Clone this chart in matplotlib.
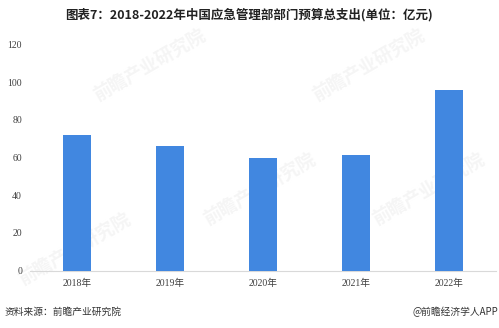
import matplotlib.pyplot as plt
import numpy as np

#%% data
years = ['2018年', '2019年', '2020年', '2021年', '2022年']
spend = [72.0, 66.3, 59.6, 61.5, 95.7]   # 亿元
yticks = [0, 20, 40, 60, 80, 100, 120]

title = '图表7：2018-2022年中国应急管理部部门预算总支出(单位：亿元)'
source = '资料来源：前瞻产业研究院'
brand = '@前瞻经济学人APP'

#%% fonts
plt.rcParams['font.family'] = ['Noto Sans CJK SC', 'DejaVu Sans']
tickfont = ['Liberation Serif', 'Noto Sans CJK SC']

#%% plot
fig = plt.figure(figsize=(4.99, 3.28), dpi=100)
ax = fig.add_axes([0.061, 0.175, 0.932, 0.689])
ax.set_zorder(1)

# faint watermarks, behind the axes
for (wx, wy) in [(0.30, 0.80), (0.74, 0.80), (0.52, 0.42), (0.15, 0.24), (0.86, 0.42)]:
    fig.text(wx, wy, '前瞻产业研究院', fontsize=13, color='#f5f5f5', rotation=30,
             ha='center', va='center', fontweight='bold', zorder=0)

x = np.arange(len(years))
ax.bar(x, spend, width=0.31, color='#4187e0', zorder=3)

ax.set_xlim(-0.5, len(years) - 0.5)
ax.set_ylim(0, 120)
ax.set_yticks(yticks)
ax.set_yticklabels([str(v) for v in yticks], family=tickfont, fontsize=7, color='#404040')
ax.set_xticks(x)
ax.set_xticklabels(years, family=tickfont, fontsize=7, color='#404040')
ax.tick_params(axis='x', length=0, pad=6)
ax.tick_params(axis='y', length=0, pad=6)
for s in ['top', 'right', 'left']:
    ax.spines[s].set_visible(False)
ax.spines['bottom'].set_color('#d9d9d9')
ax.spines['bottom'].set_linewidth(0.8)
ax.patch.set_alpha(0)

fig.text(0.5, 0.955, title, ha='center', va='center', fontsize=9, fontweight='bold', color='#222222')
fig.text(0.01, 0.048, source, ha='left', va='center', fontsize=7, color='#333333')
fig.text(0.998, 0.048, brand, ha='right', va='center', fontsize=7, color='#333333')

fig.savefig('out.png', dpi=100)
